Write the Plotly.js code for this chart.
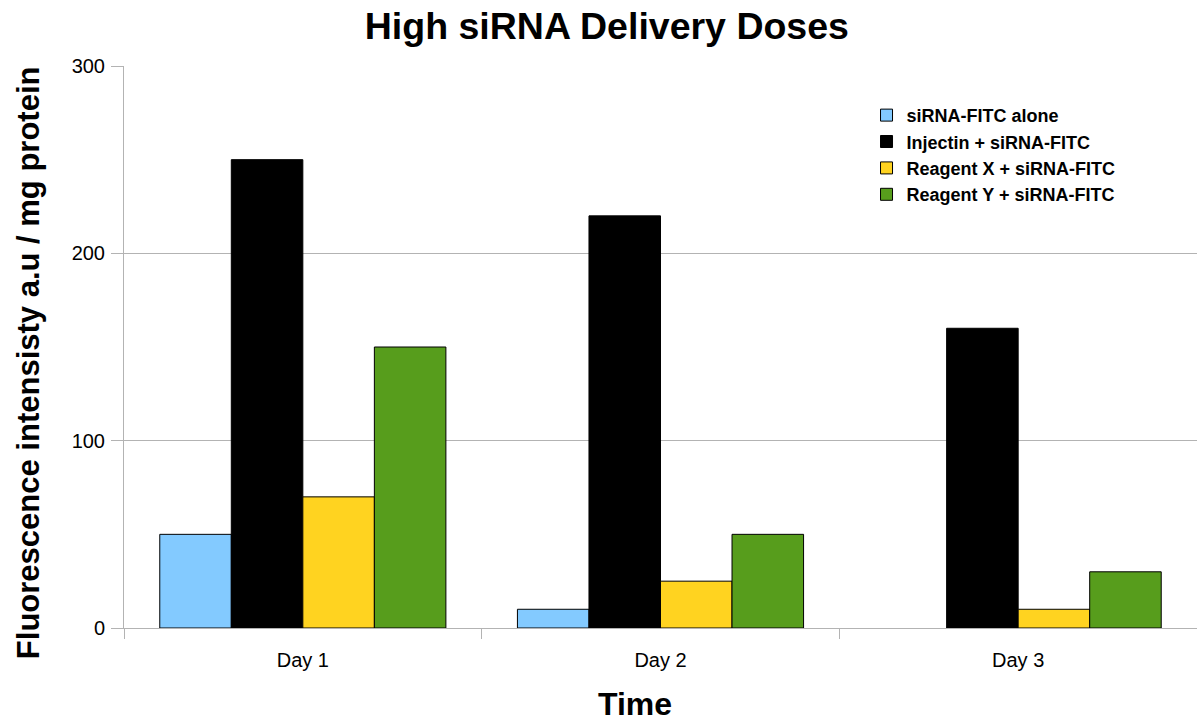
<!DOCTYPE html>
<html><head><meta charset="utf-8">
<script src="https://cdn.plot.ly/plotly-3.0.1.min.js"></script>
<style>html,body{margin:0;padding:0;background:#fff}#chart{width:1197px;height:724px}</style>
</head><body><div id="chart"></div>
<script>
const categories = ["Day 1", "Day 2", "Day 3"];
const seriesNames = ["siRNA-FITC alone", "Injectin + siRNA-FITC", "Reagent X + siRNA-FITC", "Reagent Y + siRNA-FITC"];
const siRNAAlone = [50, 10, 0];
const injectin = [250, 220, 160];
const reagentX = [70, 25, 10];
const reagentY = [150, 50, 30];
const yTicks = [0, 100, 200, 300];
const colors = ["#83caff", "#000000", "#ffd320", "#579d1c"];
const values = [siRNAAlone, injectin, reagentX, reagentY];
const FONT = "Liberation Sans, Arial, sans-serif";

const traces = values.map((v, i) => ({
  type: "bar", x: categories, y: v, name: "<b>" + seriesNames[i] + "</b>",
  marker: {color: colors[i], line: {color: "#000000", width: v.map(d => d === 0 ? 0 : 1)}}
}));

const layout = {
  width: 1197, height: 724,
  margin: {l: 124, r: 0, t: 66, b: 96},
  paper_bgcolor: "#fff", plot_bgcolor: "#fff",
  font: {family: FONT, color: "#000"},
  title: {text: "<b>High siRNA Delivery Doses</b>", font: {size: 37.5, family: FONT}, xref: "paper", x: 0.45, xanchor: "center", yref: "container", y: 0.964, yanchor: "middle"},
  barmode: "group", bargap: 0.2, bargroupgap: 0,
  xaxis: {
    type: "category", showline: true, linecolor: "#b3b3b3", linewidth: 1,
    ticks: "outside", tickson: "boundaries", ticklen: 10, tickcolor: "#b3b3b3",
    tickfont: {size: 20}, ticklabelstandoff: 14, showgrid: false
  },
  yaxis: {
    range: [0, 300], tickvals: yTicks, ticks: "outside", ticklen: 12, tickcolor: "#b3b3b3",
    showline: true, linecolor: "#b3b3b3", showgrid: true, gridcolor: "#b3b3b3", zeroline: false,
    tickfont: {size: 20}, ticklabelstandoff: 2
  },
  annotations: [{
    text: "<b>Time</b>", xref: "paper", yref: "paper", x: 0.476, y: -0.135,
    xanchor: "center", yanchor: "middle", showarrow: false, font: {size: 32, family: FONT, color: "#000"}
  }, {
    text: "<b>Fluorescence intensisty a.u / mg protein</b>", xref: "paper", yref: "paper", x: -0.0895, y: 0.473,
    xanchor: "center", yanchor: "middle", textangle: -90, showarrow: false, font: {size: 31, family: FONT, color: "#000"}
  }],
  legend: {x: 0.692, y: 0.945, xanchor: "left", yanchor: "top", font: {size: 18, family: FONT}, bgcolor: "rgba(0,0,0,0)", traceorder: "normal", itemwidth: 30}
};
Plotly.newPlot("chart", traces, layout, {displayModeBar: false});
</script></body></html>
